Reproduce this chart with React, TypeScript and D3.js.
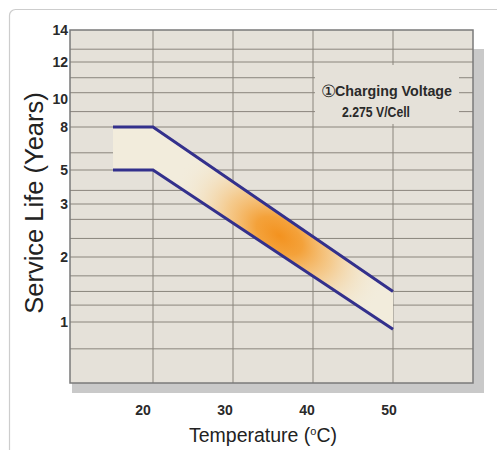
import React from 'react';
import * as d3 from 'd3';

// ---- data ----
const temperatureTicks = [20, 30, 40, 50];
const lifeTicks = [1, 2, 3, 5, 8, 10, 12, 14];
const lifeBreaks = [0.5, 1, 2, 3, 5, 8, 10, 12, 14];
const gridLifeValues = [12.8, 12, 11.15, 10.34, 9.1, 8, 6.2, 5, 3.8, 3, 2.71, 2.35, 2, 1.71, 1.47, 1.26, 1, 0.78];
const upperTemps = [15, 20, 50];
const upperLife = [8, 8, 1.47];
const lowerTemps = [15, 20, 50];
const lowerLife = [5, 5, 0.94];
const noteMarker = '①';
const noteLines = ['Charging Voltage', '2.275 V/Cell'];
const yTitle = 'Service Life (Years)';
const xTitle = 'Temperature (';

const FONT = "'Liberation Sans', Arial, Helvetica, sans-serif";

export default function App() {
  const W = 497, H = 450;
  const left = 70, right = 473, top = 30, bottom = 383;
  const x = d3.scaleLinear().domain([20, 50]).range([153, 393]);
  const xLabel = d3.scaleLinear().domain([20, 50]).range([x(20) - 10, x(50) - 4]);
  const y = d3.scaleLinear().domain(lifeBreaks).range([383, 322, 257, 204, 170, 127, 99, 62, 30]);

  const upper: [number, number][] = upperTemps.map((t, i) => [x(t), y(upperLife[i])]);
  const lower: [number, number][] = lowerTemps.map((t, i) => [x(t), y(lowerLife[i])]);
  const line = d3.line();
  const bandPath = line([...upper, ...lower.slice().reverse()]) + 'Z';

  // gradient centre along the band
  const cx = x(35.8);
  const uy = d3.scaleLinear().domain([x(20), x(50)]).range([y(8), y(1.47)])(cx);
  const ly = d3.scaleLinear().domain([x(20), x(50)]).range([y(5), y(0.94)])(cx);
  const cy = (uy + ly) / 2 + 2;
  const ang = (Math.atan2(y(1.47) - y(8), x(50) - x(20)) * 180) / Math.PI;

  return (
    <svg width={W} height={H} style={{ position: 'absolute', left: 0, top: 0, background: '#fff' }}>
      <defs>
        <radialGradient
          id="hot"
          gradientUnits="userSpaceOnUse"
          cx={cx}
          cy={cy}
          r={118}
          gradientTransform={`translate(${cx} ${cy}) rotate(${ang}) scale(1 0.58) translate(${-cx} ${-cy})`}
        >
          <stop offset="0" stopColor="#f3921f" stopOpacity={1} />
          <stop offset="0.22" stopColor="#f49c2e" stopOpacity={0.93} />
          <stop offset="0.5" stopColor="#f6b965" stopOpacity={0.65} />
          <stop offset="0.78" stopColor="#f4d7a8" stopOpacity={0.28} />
          <stop offset="1" stopColor="#f2ecdc" stopOpacity={0} />
        </radialGradient>
      </defs>

      {/* outer frame */}
      <rect x={9.5} y={9.5} width={520} height={480} rx={6} fill="#fff" stroke="#cdcdcd" strokeWidth={1.2} />

      {/* shadow */}
      <rect x={left + 2} y={top + 19} width={right - left + 9} height={bottom - top - 9} fill="#c9c9c9" />

      {/* plot background */}
      <rect x={left} y={top} width={right - left} height={bottom - top} fill="#e5e1d9" />

      {/* horizontal grid */}
      {gridLifeValues.map((v, i) => (
        <line key={'h' + i} x1={left} x2={right} y1={y(v)} y2={y(v)} stroke="#8a857d" strokeWidth={1} />
      ))}
      {/* vertical grid */}
      {temperatureTicks.map((t) => (
        <line key={'v' + t} x1={x(t)} x2={x(t)} y1={top} y2={bottom} stroke="#8a857d" strokeWidth={1} />
      ))}

      {/* note background */}
      <rect x={315} y={65} width={144} height={59} fill="#e5e1d9" />

      {/* band */}
      <path d={bandPath} fill="#f2ecdc" />
      <path d={bandPath} fill="url(#hot)" />
      <path d={line(upper) || ''} fill="none" stroke="#33308c" strokeWidth={3} />
      <path d={line(lower) || ''} fill="none" stroke="#33308c" strokeWidth={3} />

      {/* plot border */}
      <rect x={left} y={top} width={right - left} height={bottom - top} fill="none" stroke="#7a7a7a" strokeWidth={1.5} />

      {/* y tick labels */}
      {lifeTicks.map((v) => (
        <text key={'yl' + v} x={68} y={y(v)} dy="0.36em" textAnchor="end" fontFamily={FONT} fontSize={14} fontWeight="bold" fill="#2a2a2a">
          {v}
        </text>
      ))}
      {/* x tick labels */}
      {temperatureTicks.map((t) => (
        <text key={'xl' + t} x={xLabel(t)} y={415} textAnchor="middle" fontFamily={FONT} fontSize={14} fontWeight="bold" fill="#2a2a2a">
          {t}
        </text>
      ))}

      {/* titles */}
      <text
        x={43}
        y={203}
        transform="rotate(-90 43 203)"
        textAnchor="middle"
        fontFamily={FONT}
        fontSize={25.5}
        fill="#222"
      >
        {yTitle}
      </text>
      <text x={263} y={442} textAnchor="middle" fontFamily={FONT} fontSize={19.5} fill="#222">
        {xTitle}
        <tspan fontSize={11} dy={-7}>o</tspan>
        <tspan dy={7}>C)</tspan>
      </text>

      {/* note */}
      <text x={320.5} y={97} fontFamily={FONT} fontSize={17} fill="#222">{noteMarker}</text>
      <text x={335} y={96} fontFamily={FONT} fontSize={15} fontWeight="bold" fill="#2a2a2a" textLength={117} lengthAdjust="spacingAndGlyphs">
        {noteLines[0]}
      </text>
      <text x={342} y={117} fontFamily={FONT} fontSize={14.5} fontWeight="bold" fill="#2a2a2a" textLength={68} lengthAdjust="spacingAndGlyphs">
        {noteLines[1]}
      </text>
    </svg>
  );
}
